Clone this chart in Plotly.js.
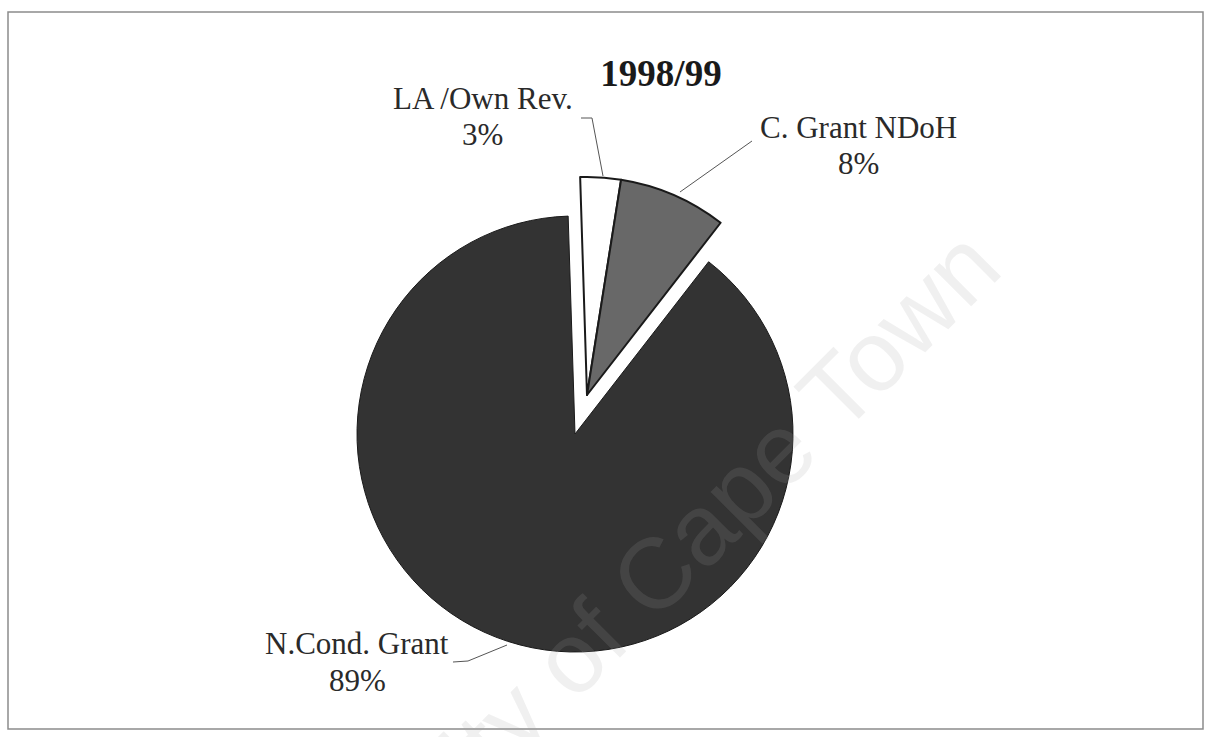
<!DOCTYPE html>
<html>
<head>
<meta charset="utf-8">
<script src="https://cdn.plot.ly/plotly-3.0.1.min.js"></script>
<style>
  html, body { margin: 0; padding: 0; background: #ffffff; }
  #chart { width: 1207px; height: 737px; }
</style>
</head>
<body>
<div id="chart"></div>
<script>
// ---- data ----
const chartTitle = '1998/99';
const labels = ['LA /Own Rev.', 'C. Grant NDoH', 'N.Cond. Grant'];
const values = [3, 8, 89];
const percentText = ['3%', '8%', '89%'];
const exploded = [true, true, false];
const sliceColors = ['#ffffff', '#686868', '#333333'];
const watermark = 'University of Cape Town';

// ---- layout helpers ----
const W = 1207, H = 737;
const px = (x) => x / W;
const py = (y) => 1 - y / H;
function domainFor(cx, cy, r) {
  return { x: [px(cx - r), px(cx + r)], y: [py(cy + r), py(cy - r)] };
}
const R = 218;
const baseCenter = [575, 434];
const explodeShift = [12, -39];

function pieTrace(showExploded, domain) {
  const show = exploded.map(e => e === showExploded);
  return {
    type: 'pie',
    labels: labels,
    values: values,
    sort: false,
    direction: 'clockwise',
    rotation: -1.8,
    domain: domain,
    textinfo: 'none',
    hoverinfo: 'skip',
    showlegend: false,
    marker: {
      colors: sliceColors.map((c, i) => show[i] ? c : 'rgba(0,0,0,0)'),
      line: {
        color: sliceColors.map((c, i) => show[i] ? '#1a1a1a' : 'rgba(0,0,0,0)'),
        width: sliceColors.map((c, i) => show[i] ? (i === 2 ? 1 : 2) : 0)
      }
    }
  };
}

const traces = [
  pieTrace(false, domainFor(baseCenter[0], baseCenter[1], R)),
  pieTrace(true, domainFor(baseCenter[0] + explodeShift[0], baseCenter[1] + explodeShift[1], R))
];

// label line centres (name line, percent line)
const labelPos = [[483, 99, 134], [858, 128, 163], [357, 643, 680]];
const labelFont = { family: '"Liberation Serif", "Times New Roman", serif', size: 31, color: '#2a2a2a' };

const annotations = [];
labels.forEach((lab, i) => {
  annotations.push({
    xref: 'paper', yref: 'paper',
    x: px(labelPos[i][0]), y: py(labelPos[i][1]),
    xanchor: 'center', yanchor: 'middle',
    text: lab, showarrow: false, font: labelFont
  });
  annotations.push({
    xref: 'paper', yref: 'paper',
    x: px(labelPos[i][0]), y: py(labelPos[i][2]),
    xanchor: 'center', yanchor: 'middle',
    text: percentText[i], showarrow: false, font: labelFont
  });
});

annotations.push({
  xref: 'paper', yref: 'paper',
  x: px(600), y: py(628),
  xanchor: 'center', yanchor: 'middle',
  text: watermark,
  textangle: -45,
  showarrow: false,
  font: { family: '"Liberation Sans", Arial, sans-serif', size: 100, color: 'rgba(160,160,160,0.16)' }
});

function pathPx(points) {
  return points.map((p, i) => (i === 0 ? 'M' : 'L') + px(p[0]).toFixed(5) + ',' + py(p[1]).toFixed(5)).join(' ');
}

const leaderLines = [
  [[581, 118], [592, 118], [603, 176]],
  [[752, 141], [680, 192]],
  [[453, 662], [468, 661], [507, 645]]
];

const shapes = leaderLines.map(pts => ({
  type: 'path', xref: 'paper', yref: 'paper',
  path: pathPx(pts),
  line: { color: '#555555', width: 1 }
}));

shapes.push({
  type: 'rect', xref: 'paper', yref: 'paper',
  x0: px(8), x1: px(1203), y0: py(729), y1: py(12),
  line: { color: '#8c8c8c', width: 1.5 }
});

const layout = {
  width: W, height: H,
  margin: { l: 0, r: 0, t: 0, b: 0 },
  paper_bgcolor: '#ffffff',
  plot_bgcolor: '#ffffff',
  title: {
    text: '<b>' + chartTitle + '</b>',
    x: px(661), y: py(73),
    xanchor: 'center', yanchor: 'middle',
    font: { family: '"Liberation Serif", "Times New Roman", serif', size: 37, color: '#1a1a1a' }
  },
  annotations: annotations,
  shapes: shapes,
  showlegend: false
};

Plotly.newPlot('chart', traces, layout, { displayModeBar: false, staticPlot: true });
</script>
</body>
</html>
